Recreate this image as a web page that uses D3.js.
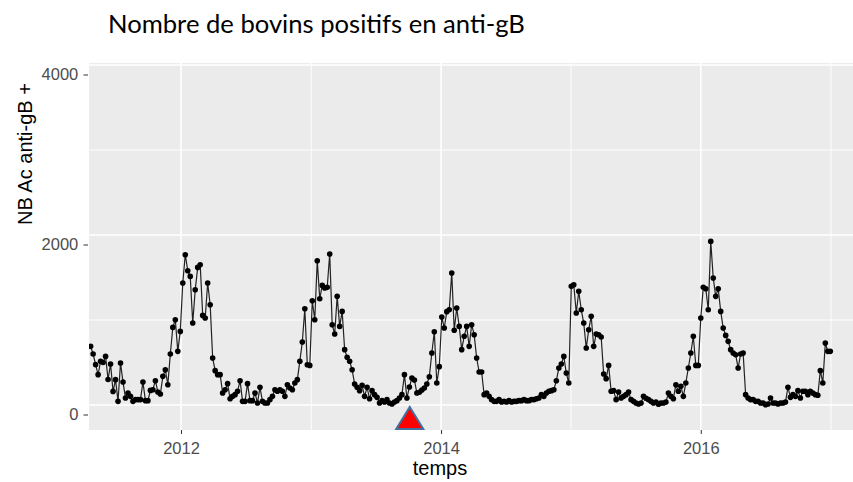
<!DOCTYPE html>
<html><head><meta charset="utf-8">
<script src="https://cdn.jsdelivr.net/npm/d3@7"></script>
<style>body{margin:0;background:#fff}svg{display:block}</style>
</head><body>
<svg id="chart" width="853" height="482"></svg>
<script>
// ---- data ----
const startDate = "2011-04-22";           // first weekly observation
const values = [
 690,600,475,357,514,500,572,300,482,160, 298,43,494,270,82,141,102,43,63,63,
 63,270,51,51,172,180,286,153,129,337, 415,239,600,913,1003,631,866,1435,1768,1580,
 1513,964,1356,1619,1650,1054,1023,1435,1180,553, 404,357,357,141,180,251,74,102,122,161,
 286,43,43,251,51,51,141,24,208,43, 24,24,63,102,180,161,180,161,102,239,
 200,180,259,298,514,741,1133,474,466,1227, 1003,1697,1250,1407,1376,1384,1776,945,835,1278,
 925,1101,651,561,514,415,247,208,169,231, 102,208,74,169,122,90,24,51,35,63,
 24,12,35,51,82,122,357,82,212,318, 294,141,150,176,200,247,333,612,862,259,
 451,1035,906,1098,1121,1553,880,1141,925,651, 808,925,690,945,827,553,388,388,122,141,
 102,63,43,43,63,35,43,35,51,35, 43,43,51,51,63,51,51,63,63,74,
 82,122,102,141,161,169,180,286,435,482, 572,376,259,1396,1415,1082,1337,1121,964,670,
 886,1043,690,835,827,800,365,310,466,161, 169,63,153,82,102,122,153,63,43,24,
 12,24,102,80,63,43,24,35,10,24, 24,35,141,102,74,239,161,220,102,259,
 435,612,808,466,466,1023,1384,1368,1121,1925, 1494,1278,1368,1101,906,819,749,651,612,592,
 435,600,612,122,82,63,63,43,43,24, 24,4,12,82,24,24,12,24,24,35,
 208,90,122,102,169,82,161,161,122,161, 141,122,114,404,259,729,631,631
];
const yTicks = [0, 2000, 4000];
const yMinor = [1000, 3000];
const xTickYears = [2012, 2014, 2016];
const xMinorYears = [2013, 2015, 2017];
const markerDate = "2013-10-05";
const titleText = "Nombre de bovins positifs en anti-gB";
const xLabel = "temps";
const yLabel = "NB Ac anti-gB +";

// ---- layout ----
const svg = d3.select("#chart");
const panel = {left: 89, right: 853, top: 63, bottom: 430};
const parse = d3.utcParse("%Y-%m-%d");
const start = parse(startDate);
const data = values.map((v, i) => ({date: d3.utcDay.offset(start, 7 * i), value: v}));
const yr = y => new Date(Date.UTC(y, 0, 1));

const x = d3.scaleUtc().domain([yr(2012), yr(2017)]).range([181, 831]);
const y = d3.scaleLinear().domain([0, 4000]).range([405, 65]);

// panel background
svg.append("rect").attr("x", panel.left).attr("y", panel.top)
  .attr("width", panel.right - panel.left).attr("height", panel.bottom - panel.top)
  .attr("fill", "#EBEBEB");

const grid = svg.append("g");
grid.selectAll(".ymin").data(yMinor).join("line")
  .attr("x1", panel.left).attr("x2", panel.right)
  .attr("y1", d => y(d)).attr("y2", d => y(d))
  .attr("stroke", "#fff").attr("stroke-width", 0.9);
grid.selectAll(".xmin").data(xMinorYears).join("line")
  .attr("y1", panel.top).attr("y2", panel.bottom)
  .attr("x1", d => x(yr(d))).attr("x2", d => x(yr(d)))
  .attr("stroke", "#fff").attr("stroke-width", 0.9);
grid.selectAll(".ymaj").data(yTicks).join("line")
  .attr("x1", panel.left).attr("x2", panel.right)
  .attr("y1", d => y(d)).attr("y2", d => y(d))
  .attr("stroke", "#fff").attr("stroke-width", 1.6);
grid.selectAll(".xmaj").data(xTickYears).join("line")
  .attr("y1", panel.top).attr("y2", panel.bottom)
  .attr("x1", d => x(yr(d))).attr("x2", d => x(yr(d)))
  .attr("stroke", "#fff").attr("stroke-width", 1.6);

// clip
svg.append("clipPath").attr("id", "clip").append("rect")
  .attr("x", panel.left).attr("y", panel.top)
  .attr("width", panel.right - panel.left).attr("height", panel.bottom - panel.top);

const plot = svg.append("g").attr("clip-path", "url(#clip)");
plot.append("path").datum(data)
  .attr("fill", "none").attr("stroke", "#222").attr("stroke-width", 1.2)
  .attr("d", d3.line().x(d => x(d.date)).y(d => y(d.value)));
plot.selectAll("circle").data(data).join("circle")
  .attr("cx", d => x(d.date)).attr("cy", d => y(d.value))
  .attr("r", 2.8).attr("fill", "#000");

// axes
const yAxis = d3.axisLeft(y).tickValues(yTicks).tickSize(4.5).tickPadding(5.2)
  .tickFormat(d3.format("d"));
const gy = svg.append("g").attr("transform", `translate(${panel.left - 1},9.5)`).call(yAxis);
gy.select(".domain").remove();
gy.selectAll(".tick line").attr("stroke", "#333").attr("stroke-width", 1);
gy.selectAll(".tick text").attr("fill", "#4D4D4D")
  .style("font-family", "'Liberation Sans', Arial, sans-serif").style("font-size", "16.5px");

const xAxis = d3.axisBottom(x).tickValues(xTickYears.map(yr)).tickSize(4).tickPadding(8.3)
  .tickFormat(d3.utcFormat("%Y"));
const gx = svg.append("g").attr("transform", `translate(0,${panel.bottom})`).call(xAxis);
gx.select(".domain").remove();
gx.selectAll(".tick line").attr("stroke", "#333").attr("stroke-width", 1);
gx.selectAll(".tick text").attr("fill", "#4D4D4D")
  .style("font-family", "'Liberation Sans', Arial, sans-serif").style("font-size", "16.5px");

// axis titles
svg.append("text").attr("x", 440).attr("y", 475).attr("text-anchor", "middle")
  .style("font-family", "'Liberation Sans', Arial, sans-serif").style("font-size", "20px")
  .attr("fill", "#000").text(xLabel);
svg.append("text").attr("transform", "translate(32,154) rotate(-90)").attr("text-anchor", "middle")
  .style("font-family", "'Liberation Sans', Arial, sans-serif").style("font-size", "20px")
  .attr("fill", "#000").text(yLabel);

// title
const t = svg.append("text").attr("x", 108).attr("y", 33)
  .style("font-family", "Lato, 'Open Sans', sans-serif").style("font-size", "28px")
  .attr("fill", "#000").text(titleText);
const w = t.node().getComputedTextLength();
t.style("font-size", (28 * 417 / w).toFixed(2) + "px");

// marker triangle
const mx = x(parse(markerDate));
svg.append("path")
  .attr("d", `M${mx},${panel.bottom - 23}L${mx + 13.5},${panel.bottom - 1}L${mx - 13.5},${panel.bottom - 1}Z`)
  .attr("fill", "#FF0000").attr("stroke", "#41719C").attr("stroke-width", 2).attr("stroke-linejoin", "miter");
</script>
</body></html>
